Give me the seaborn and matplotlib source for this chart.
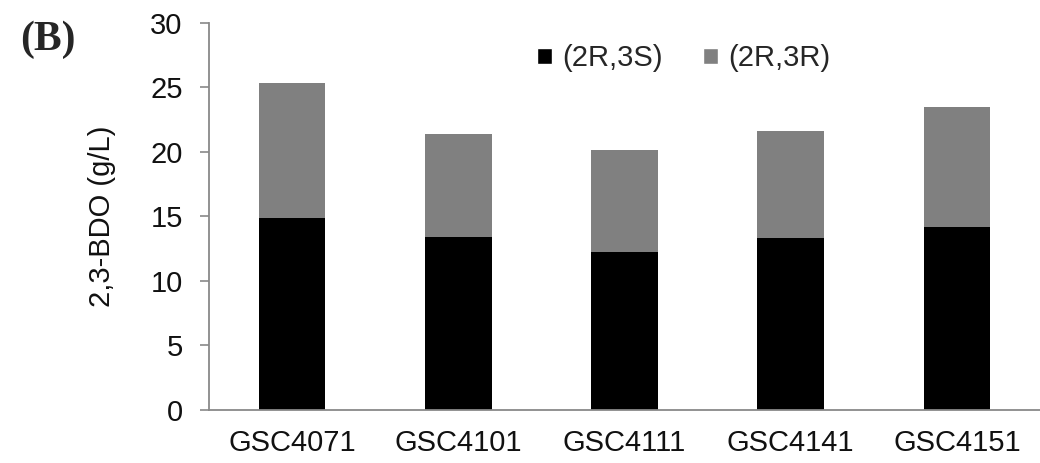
import matplotlib
matplotlib.use("Agg")
import matplotlib.pyplot as plt
from matplotlib.patches import Patch
import pandas as pd
import seaborn as sns

# values
strains = ["GSC4071", "GSC4101", "GSC4111", "GSC4141", "GSC4151"]
r3s = [14.85, 13.4, 12.25, 13.3, 14.15]   # (2R,3S)
r3r = [10.45, 8.0, 7.85, 8.3, 9.35]       # (2R,3R), stacked on top
series_names = ["(2R,3S)", "(2R,3R)"]
yticks = [0, 5, 10, 15, 20, 25, 30]

sns.set_theme(style="white")
plt.rcParams["font.family"] = ["Liberation Sans", "DejaVu Sans"]

df = pd.DataFrame({"strain": strains, "r3s": r3s, "r3r": r3r})
df["total"] = df["r3s"] + df["r3r"]

axis_grey = "#898989"
fig = plt.figure(figsize=(10.4, 4.63), dpi=100)
ax = fig.add_axes([0.201, 0.1145, 0.799, 0.8365])

# grey = whole stack, black drawn over it
sns.barplot(data=df, x="strain", y="total", color="#808080", width=0.4,
            saturation=1, linewidth=0, ax=ax)
sns.barplot(data=df, x="strain", y="r3s", color="#000000", width=0.4,
            saturation=1, linewidth=0, ax=ax)

ax.set_ylim(0, 30)
ax.set_xlim(-0.5, len(strains) - 0.5)
ax.set_yticks(yticks)
ax.set_xlabel("")
ax.set_ylabel("2,3-BDO (g/L)", fontsize=21, color="#111111")
ax.yaxis.set_label_coords(-0.112, 0.5)

for s in ["top", "right"]:
    ax.spines[s].set_visible(False)
for s in ["left", "bottom"]:
    ax.spines[s].set_color(axis_grey)
    ax.spines[s].set_linewidth(1.3)

ax.tick_params(axis="y", direction="out", length=6.5, width=1.2,
               color=axis_grey, labelsize=21, pad=12.5, left=True,
               labelcolor="#111111")
ax.tick_params(axis="x", length=0, labelsize=21, pad=14,
               labelcolor="#111111")

handles = [Patch(facecolor="#000000"), Patch(facecolor="#808080")]
ax.legend(handles, series_names, ncol=2, frameon=False, fontsize=21,
          loc="center left", bbox_to_anchor=(0.395, 0.908),
          borderaxespad=0, borderpad=0, handlelength=0.5, handleheight=0.5,
          handletextpad=0.35, columnspacing=1.4)

fig.text(0.019, 1 - 50 / 463, "(B)", fontsize=30, fontweight="bold",
         family=["Liberation Serif", "DejaVu Serif"], va="baseline")

fig.savefig("out.png", dpi=100)
